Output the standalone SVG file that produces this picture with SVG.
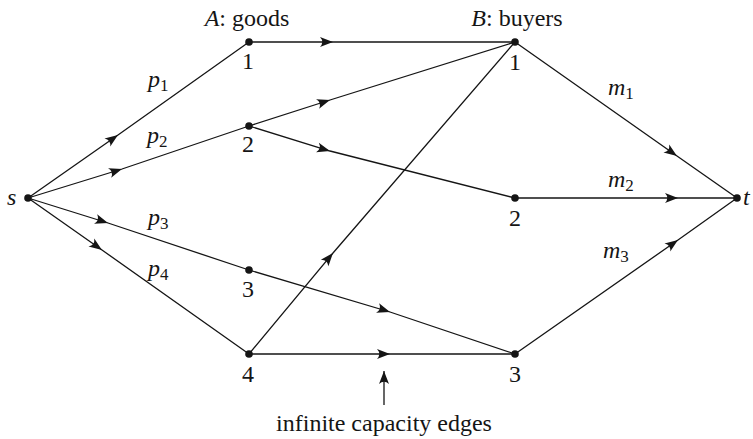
<svg xmlns="http://www.w3.org/2000/svg" width="753" height="439" viewBox="0 0 753 439">
<style>
.e{fill:none;stroke:#151515;stroke-width:1.3;marker-mid:url(#ah)}
.d{fill:#151515}
text{font-family:"Liberation Serif","Times New Roman",serif;fill:#151515;font-size:24px}
.i{font-style:italic}
.n{text-anchor:middle}
.sb{font-size:17px;font-style:normal}
</style>
<defs>
<marker id="ah" markerUnits="userSpaceOnUse" markerWidth="20" markerHeight="20" refX="0" refY="0" orient="auto" overflow="visible">
<path d="M0,0 L-13,-5 Q-8.5,0 -13,5 Z" fill="#151515"/>
</marker>
<marker id="ahu" markerUnits="userSpaceOnUse" markerWidth="20" markerHeight="20" refX="0" refY="0" orient="auto" overflow="visible">
<path d="M0,0 L-13,-5 Q-8.5,0 -13,5 Z" fill="#151515"/>
</marker>
</defs>
<rect width="753" height="439" fill="#fff"/>
<g id="connectors">
<path class="e" d="M28,198 L118,135 L249,42"/>
<path class="e" d="M28,198 L122,169 L249,126"/>
<path class="e" d="M28,198 L108,223 L249,270"/>
<path class="e" d="M28,198 L102,250 L249,354"/>
<path class="e" d="M249,42 L333,42 L515,42"/>
<path class="e" d="M249,126 L330,100 L515,42"/>
<path class="e" d="M249,126 L330,151 L515,198"/>
<path class="e" d="M249,354 L333,253 L515,42"/>
<path class="e" d="M249,270 L390,312 L515,354"/>
<path class="e" d="M249,354 L390,354 L515,354"/>
<path class="e" d="M515,42 L677,156 L737,198"/>
<path class="e" d="M515,198 L678,198 L737,198"/>
<path class="e" d="M515,354 L678,240 L737,198"/>
<path fill="none" stroke="#151515" stroke-width="1.3" d="M384,405 L384,371" marker-end="url(#ahu)"/>
</g>
<g id="s"><circle class="d" cx="28" cy="198" r="3.8"/><text class="i" x="7" y="205">s</text></g>
<g id="t"><circle class="d" cx="737" cy="198" r="3.8"/><text class="i" x="743" y="205">t</text></g>
<g id="A1"><circle class="d" cx="249" cy="42" r="3.8"/><text class="n" x="248" y="69">1</text></g>
<g id="A2"><circle class="d" cx="249" cy="126" r="3.8"/><text class="n" x="248" y="152">2</text></g>
<g id="A3"><circle class="d" cx="249" cy="270" r="3.8"/><text class="n" x="248" y="297">3</text></g>
<g id="A4"><circle class="d" cx="249" cy="354" r="3.8"/><text class="n" x="248" y="382">4</text></g>
<g id="B1"><circle class="d" cx="515" cy="42" r="3.8"/><text class="n" x="515" y="70">1</text></g>
<g id="B2"><circle class="d" cx="515" cy="198" r="3.8"/><text class="n" x="515" y="226">2</text></g>
<g id="B3"><circle class="d" cx="515" cy="354" r="3.8"/><text class="n" x="515" y="382">3</text></g>
<g id="labels">
<text class="n" x="247" y="26"><tspan class="i">A</tspan>: goods</text>
<text class="n" x="517" y="26"><tspan class="i">B</tspan>: buyers</text>
<text class="i" x="148" y="87">p<tspan class="sb" dy="4">1</tspan></text>
<text class="i" x="147" y="143">p<tspan class="sb" dy="4">2</tspan></text>
<text class="i" x="148" y="225">p<tspan class="sb" dy="4">3</tspan></text>
<text class="i" x="148" y="276">p<tspan class="sb" dy="4">4</tspan></text>
<text class="i" x="608" y="95">m<tspan class="sb" dy="4">1</tspan></text>
<text class="i" x="608" y="187">m<tspan class="sb" dy="4">2</tspan></text>
<text class="i" x="603" y="258">m<tspan class="sb" dy="4">3</tspan></text>
<text class="n" x="384" y="431">infinite capacity edges</text>
</g>
</svg>
